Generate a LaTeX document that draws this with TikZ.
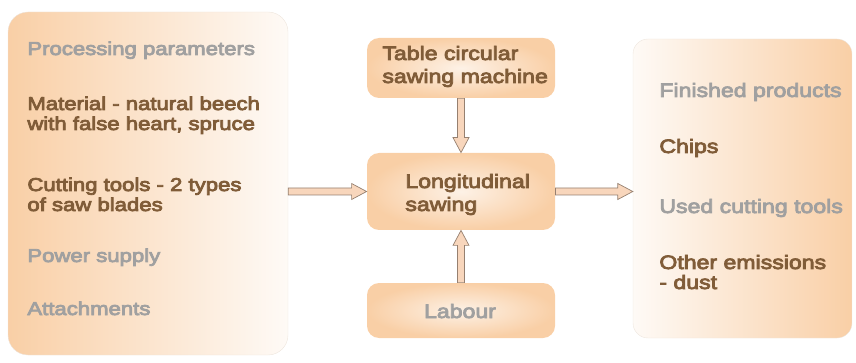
\documentclass[tikz,border=0pt]{standalone}
\usepackage{fontspec}
\setmainfont{Liberation Sans}[FakeStretch=1.19]
\usetikzlibrary{calc}

\definecolor{peach}{RGB}{249,207,166}
\definecolor{cream}{RGB}{254,250,246}
\definecolor{boxedge}{RGB}{238,230,222}
\definecolor{brownink}{RGB}{128,92,56}
\definecolor{grayink}{RGB}{160,160,160}
\definecolor{arrowfill}{RGB}{248,214,188}
\definecolor{arrowedge}{RGB}{150,128,112}

% hollow block arrow from #1 to #2
\newcommand{\blockarrow}[2]{%
  \coordinate (h) at ($(#2)!7.5pt!(#1)$);
  \draw[blockarrow] ($(#1)!1.75pt!90:(#2)$) -- ($(h)!1.75pt!90:(#2)$)
    -- ($(h)!4pt!90:(#2)$) -- (#2) -- ($(h)!4pt!-90:(#2)$)
    -- ($(h)!1.75pt!-90:(#2)$) -- ($(#1)!1.75pt!-90:(#2)$) -- cycle;}

\begin{document}
\begin{tikzpicture}[x=0.5pt, y=-0.5pt,
    sidebox/.style={draw=boxedge, very thin, inner sep=0pt},
    stepbox/.style={rounded corners=6pt, inner sep=0pt, minimum width=94pt,
      inner color=cream!80!peach, outer color=peach},
    item/.style={anchor=base west, inner sep=0pt, align=left,
      font=\fontsize{9.3}{10}\selectfont},
    outitem/.style={item, font=\fontsize{9.7}{10}\selectfont},
    steptext/.style={item, font=\fontsize{9.7}{11.5}\selectfont, brownitem},
    % outlined lettering: stroke colour, fill colour
    grayitem/.style={text=grayink,
      execute at begin node={\special{pdf:code q 0.45 G 0.85 g 2 Tr 0.4 w}},
      execute at end node={\special{pdf:code Q}}},
    brownitem/.style={text=brownink,
      execute at begin node={\special{pdf:code q 0.38 0.26 0.14 RG 0.58 0.42 0.26 rg 2 Tr 0.4 w}},
      execute at end node={\special{pdf:code Q}}},
    blockarrow/.style={draw=arrowedge, fill=arrowfill, line width=0.35pt}]

    \useasboundingbox (0,0) rectangle (856,363);

    %input side
    \node[sidebox, rounded corners=10pt, minimum width=140pt, minimum height=171.5pt,
      left color=peach, right color=cream] (inputs) at (148,183.5) {};
    \node[item, grayitem] (param) at (27,55) {Processing parameters};
    \node[item, brownitem] (material) at (27,130) {Material - natural beech\\with false heart, spruce};
    \node[item, brownitem] (tools) at (27,211) {Cutting tools - 2 types\\of saw blades};
    \node[item, grayitem] (power) at (27,262) {Power supply};
    \node[item, grayitem] (attach) at (27,315) {Attachments};

    %process column
    \node[stepbox, minimum height=30pt] (machine) at (461,68) {};
    \node[steptext] (machinetext) at (382,83) {Table circular\\sawing machine};
    \node[stepbox, minimum height=38.5pt] (process) at (461,191.5) {};
    \node[steptext] (processtext) at (405,211) {Longitudinal\\sawing};
    \node[stepbox, minimum height=27.5pt] (labour) at (461,310.5) {};
    \node[steptext, anchor=base, grayitem] (labourtext) at (460,318) {Labour};

    %output side
    \node[sidebox, rounded corners=7.5pt, minimum width=109.5pt, minimum height=149.5pt,
      left color=cream, right color=peach] (outputs) at (742.5,188.5) {};
    \node[outitem, grayitem] (finished) at (659,97) {Finished products};
    \node[outitem, brownitem] (chips) at (659,153) {Chips};
    \node[outitem, grayitem] (used) at (659,213) {Used cutting tools};
    \node[outitem, brownitem] (dust) at (659,289) {Other emissions\\- dust};

    %flows
    \coordinate (infrom) at (inputs.east |- process.west);
    \coordinate (outto) at (outputs.west |- process.east);
    \blockarrow{infrom}{process.west}
    \blockarrow{process.east}{outto}
    \blockarrow{machine.south}{process.north}
    \blockarrow{labour.north}{process.south}

\end{tikzpicture}
\end{document}
